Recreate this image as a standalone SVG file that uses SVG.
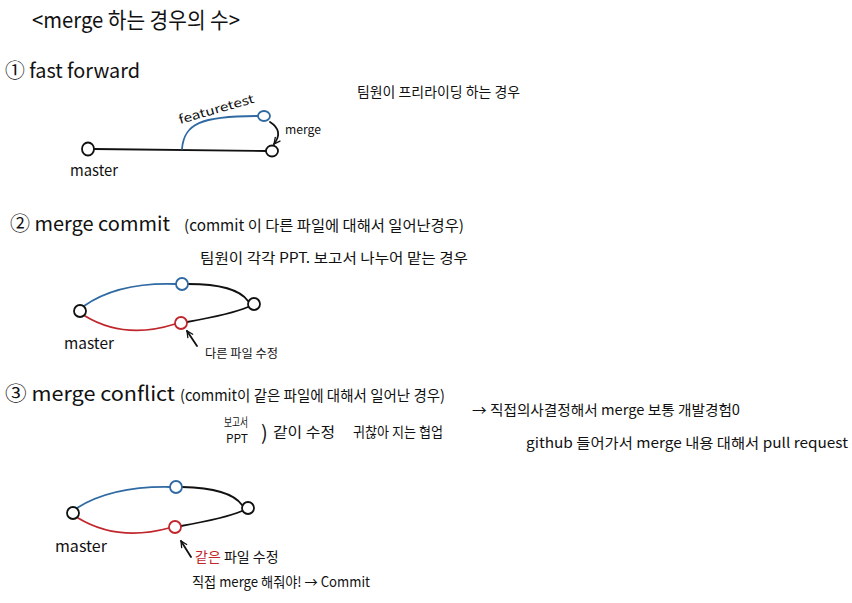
<svg xmlns="http://www.w3.org/2000/svg" width="852" height="603" viewBox="0 0 852 603">
<defs>
<style>
text{font-family:"Noto Sans CJK KR","Noto Sans",sans-serif;fill:#111}
.h{font-size:20px}
.m{font-size:15px}
.s{font-size:14px}
.xs{font-size:12px}
.red{fill:#c0272d}
.ln{fill:none;stroke:#111;stroke-width:1.8;stroke-linecap:round}
.bl{fill:none;stroke:#2f6aa3;stroke-width:1.8;stroke-linecap:round}
.rd{fill:none;stroke:#c0272d;stroke-width:1.8;stroke-linecap:round}
.nk{fill:#fff;stroke:#111;stroke-width:1.8}
.nb{fill:#fff;stroke:#2f6aa3;stroke-width:1.8}
.nr{fill:#fff;stroke:#c0272d;stroke-width:1.8}
</style>
<marker id="ah" viewBox="0 0 10 10" refX="9" refY="5" markerWidth="8" markerHeight="8" orient="auto" markerUnits="userSpaceOnUse">
<path d="M1,1 L9,5 L1,9" fill="none" stroke="#111" stroke-width="1.6"/>
</marker>
</defs>
<rect width="852" height="603" fill="#fff"/>

<g id="titles">
<text x="32" y="28" style="font-size:22px" textLength="208" lengthAdjust="spacingAndGlyphs">&lt;merge 하는 경우의 수&gt;</text>
<text x="5" y="78" class="h" textLength="135" lengthAdjust="spacingAndGlyphs">① fast forward</text>
<text x="357" y="97" class="s" textLength="163" lengthAdjust="spacingAndGlyphs">팀원이 프리라이딩 하는 경우</text>
<text x="10" y="231" class="h" textLength="160" lengthAdjust="spacingAndGlyphs">② merge commit</text>
<text x="184" y="231" class="m" textLength="280" lengthAdjust="spacingAndGlyphs">(commit 이 다른 파일에 대해서 일어난경우)</text>
<text x="200" y="263" class="s" textLength="268" lengthAdjust="spacingAndGlyphs">팀원이 각각 PPT. 보고서 나누어 맡는 경우</text>
<text x="5" y="401" class="h" textLength="170" lengthAdjust="spacingAndGlyphs">③ merge conflict</text>
<text x="180" y="401" class="m" textLength="265" lengthAdjust="spacingAndGlyphs">(commit이 같은 파일에 대해서 일어난 경우)</text>
<text x="224" y="427" class="xs" textLength="24" lengthAdjust="spacingAndGlyphs">보고서</text>
<text x="226" y="443" class="xs" textLength="22" lengthAdjust="spacingAndGlyphs">PPT</text>
<text x="261" y="440" style="font-size:20px">)</text>
<text x="273" y="437" class="s" textLength="62" lengthAdjust="spacingAndGlyphs">같이 수정</text>
<text x="353" y="437" class="s" textLength="90" lengthAdjust="spacingAndGlyphs">귀찮아 지는 협업</text>
<text x="472" y="415" class="s" textLength="268" lengthAdjust="spacingAndGlyphs">→ 직접의사결정해서 merge 보통 개발경험0</text>
<text x="526" y="448" class="s" textLength="322" lengthAdjust="spacingAndGlyphs">github 들어가서 merge 내용 대해서 pull request</text>
</g>

<g id="connectors">
<path class="ln" d="M94,149 L266,151"/>
<path class="bl" d="M182,149 C184,124 200,116 258,116"/>
<path class="ln" d="M270,122 Q284,131 274,144" marker-end="url(#ah)"/>
<path class="bl" d="M84,306 Q118,282 176,284"/>
<path class="ln" d="M188,284 Q236,284 248,301"/>
<path class="rd" d="M85,316 Q125,340 175,324"/>
<path class="ln" d="M187,322 Q232,314 248,307"/>
<path class="ln" d="M197,346 L187,331" marker-end="url(#ah)"/>
<path class="bl" d="M77,508 Q112,486 170,487"/>
<path class="ln" d="M182,487 Q230,488 242,505"/>
<path class="rd" d="M78,518 Q118,542 169,528"/>
<path class="ln" d="M181,526 Q226,518 242,511"/>
<path class="ln" d="M191,557 L181,541" marker-end="url(#ah)"/>
</g>

<g id="ff-master"><ellipse cx="88" cy="149" rx="6" ry="6.5" class="nk"/><text x="70" y="176" class="m" textLength="48" lengthAdjust="spacingAndGlyphs">master</text></g>
<g id="ff-feature"><ellipse cx="264" cy="116" rx="6" ry="5" class="nb"/><text x="0" y="0" class="xs" transform="translate(180,124) rotate(-16)" textLength="78" lengthAdjust="spacingAndGlyphs">featuretest</text></g>
<g id="ff-merged"><ellipse cx="272" cy="151" rx="6" ry="5.5" class="nk"/><text x="285" y="134" class="xs" textLength="36" lengthAdjust="spacingAndGlyphs">merge</text></g>

<g id="mc-master"><circle cx="80" cy="311" r="6" class="nk"/><text x="64" y="349" class="m" textLength="50" lengthAdjust="spacingAndGlyphs">master</text></g>
<g id="mc-blue"><circle cx="182" cy="284" r="6" class="nb"/></g>
<g id="mc-red"><circle cx="181" cy="323" r="6" class="nr"/><text x="205" y="358" class="xs" textLength="73" lengthAdjust="spacingAndGlyphs">다른 파일 수정</text></g>
<g id="mc-merge"><circle cx="254" cy="304" r="6" class="nk"/></g>

<g id="cf-master"><circle cx="73" cy="513" r="6" class="nk"/><text x="55" y="552" class="m" textLength="52" lengthAdjust="spacingAndGlyphs">master</text></g>
<g id="cf-blue"><circle cx="176" cy="487" r="6" class="nb"/></g>
<g id="cf-red"><circle cx="175" cy="527" r="6" class="nr"/><text x="195" y="562" class="s"><tspan class="red">같은</tspan> 파일 수정</text><text x="192" y="587" class="s" textLength="178" lengthAdjust="spacingAndGlyphs">직접 merge 해줘야! → Commit</text></g>
<g id="cf-merge"><circle cx="248" cy="508" r="6" class="nk"/></g>
</svg>
